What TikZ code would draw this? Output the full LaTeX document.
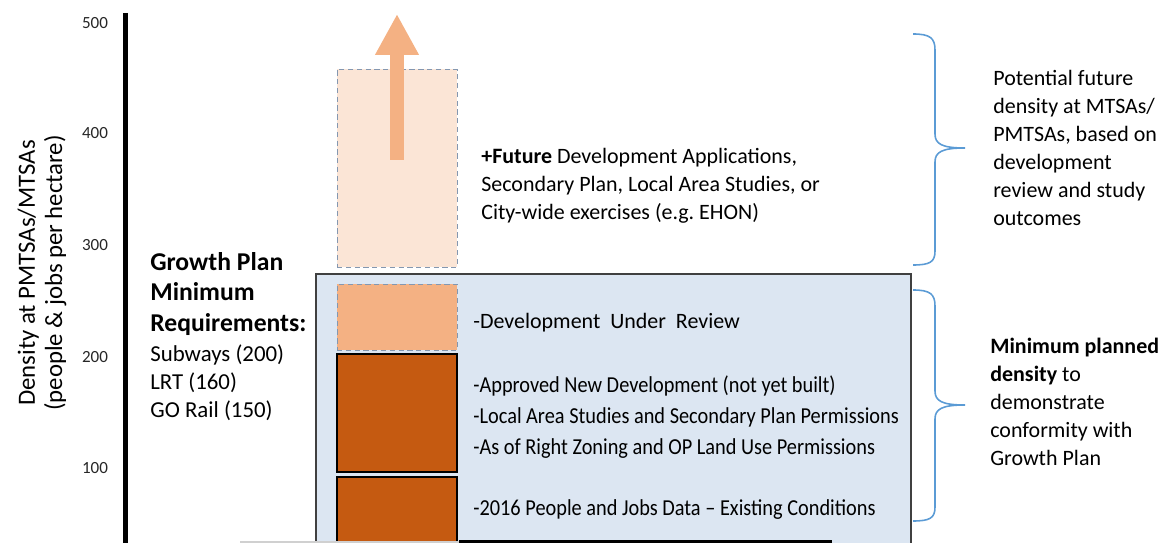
\documentclass[tikz,border=0pt]{standalone}
\usepackage{fontspec}
\setmainfont{Carlito}
\newfontfamily\narrowfont[FakeStretch=0.89]{Carlito}
\usepackage{xcolor}
\usepackage{tikz}
\usetikzlibrary{arrows.meta}
\definecolor{boxblue}{HTML}{DCE6F2}
\definecolor{boxedge}{HTML}{404040}
\definecolor{softpeach}{HTML}{FBE5D6}
\definecolor{midpeach}{HTML}{F4B183}
\definecolor{burntorange}{HTML}{C55A11}
\definecolor{dashgray}{HTML}{8497B0}
\definecolor{braceblue}{HTML}{5B9BD5}
\definecolor{basegray}{HTML}{D0D0D0}
\tikzset{
  bodytext/.style={anchor=west, inner sep=0pt, align=left, font=\fontsize{12.5}{15.9}\selectfont},
  headtext/.style={anchor=west, inner sep=0pt, align=left, font=\bfseries\fontsize{14.6}{17.6}\selectfont},
  sidetext/.style={anchor=west, inner sep=0pt, align=left, font=\fontsize{13}{15.9}\selectfont},
  listtext/.style={anchor=west, inner sep=0pt, align=left, font=\narrowfont\fontsize{13}{17.6}\selectfont},
  axistitle/.style={inner sep=0pt, align=center, font=\fontsize{14.1}{15.4}\selectfont},
  ticklabel/.style={inner sep=0pt, font=\fontsize{9.7}{11}\selectfont, text=black!85},
  bar/.style={rectangle, inner sep=0pt, minimum width=2.4cm},
  futurebar/.style={bar, fill=softpeach, draw=dashgray, densely dashed, line width=0.5pt},
  reviewbar/.style={bar, fill=midpeach, draw=dashgray, densely dashed, line width=0.5pt},
  builtbar/.style={bar, fill=burntorange, draw=black, line width=1.2pt},
  planbox/.style={rectangle, inner sep=0pt, fill=boxblue, draw=boxedge, line width=0.8pt},
  bracket/.style={draw=braceblue, line width=0.9pt},
  risearrow/.style={draw=midpeach, line width=0.28cm, -{Triangle[length=0.82cm, width=0.82cm]}},
  axisline/.style={line width=0.1cm}
}

\begin{document}
\begin{tikzpicture}[x=0.02cm,y=-0.02cm]
  \useasboundingbox (0,0) rectangle (1166,543);

  % vertical scale
  \draw[axisline] (125,13) -- (125,545);
  \foreach \val/\py in {500/23,400/133,300/245,200/357,100/468}
    \node[ticklabel] (tick\val) at (95,\py) {\val};
  \node[axistitle, rotate=90] (ytitle) at (42,273) {Density at PMTSAs/MTSAs\\(people \& jobs per hectare)};

  \node[headtext] (growth) at (150,294) {Growth Plan\\Minimum\\Requirements:};
  \node[sidetext] (reqs) at (150,383) {Subways (200)\\LRT (160)\\GO Rail (150)};

  % planned density block and its bars
  \node[planbox, minimum width=11.9cm, minimum height=5.42cm] (plan) at (613.5,409.5) {};
  \node[futurebar, minimum height=3.96cm] (future) at (397,168) {};
  \node[reviewbar, minimum height=1.32cm] (review) at (397,317) {};
  \node[builtbar, minimum height=2.36cm] (approved) at (397,413) {};
  \node[builtbar, minimum height=1.36cm] (existing) at (397,511) {};

  \coordinate (riseBase) at (397,160);
  \coordinate (riseTip) at (397,14);
  \draw[risearrow] (riseBase) -- (riseTip);

  \draw[basegray, line width=0.04cm] (240,542) -- (459,542);
  \draw[line width=0.06cm] (459,541.5) -- (832,541.5);

  \node[bodytext] (futuretext) at (481,186) {\textbf{+Future} Development\ Applications,\\Secondary Plan, Local Area Studies, or\\City-wide exercises (e.g.\ EHON)};
  \node[bodytext] (reviewtext) at (473,323) {-Development\ \ Under\ \ Review};
  \node[listtext] (approvedtext) at (473,417) {-Approved New Development (not yet built)\\-Local Area Studies and Secondary Plan Permissions\\-As of Right Zoning and OP Land Use Permissions};
  \node[listtext] (existingtext) at (473,510) {-2016 People and Jobs Data – Existing Conditions};

  % braces on the right
  \draw[bracket] (913,34) .. controls (930,34) and (935,38) .. (935,50) -- (935,134)
    .. controls (935,144) and (942,148) .. (965,148)
    .. controls (942,148) and (935,152) .. (935,162) -- (935,251)
    .. controls (935,262) and (930,265) .. (913,265);
  \draw[bracket] (913,290) .. controls (930,290) and (935,294) .. (935,306) -- (935,391)
    .. controls (935,401) and (942,405) .. (965,405)
    .. controls (942,405) and (935,409) .. (935,419) -- (935,507)
    .. controls (935,518) and (930,521) .. (913,521);

  \node[bodytext] (potential) at (993,148) {Potential future\\density at MTSAs/\\PMTSAs, based on\\development\\review and study\\outcomes};
  \node[bodytext] (minimum) at (990,402) {\textbf{Minimum planned}\\\textbf{density} to\\demonstrate\\conformity with\\Growth Plan};
\end{tikzpicture}
\end{document}
